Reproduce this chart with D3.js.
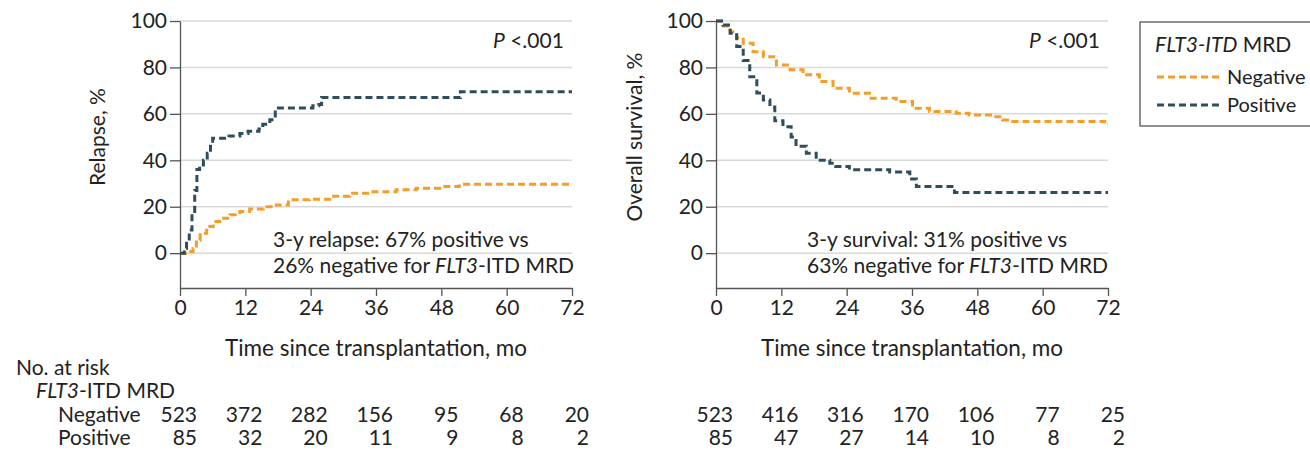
<!DOCTYPE html>
<html>
<head>
<meta charset="utf-8">
<script src="https://cdn.jsdelivr.net/npm/d3@7"></script>
<style>
  body { margin: 0; background: #fff; }
  svg { font-family: Lato, "Open Sans", sans-serif; }
  .axis path, .axis line { stroke: #555; stroke-width: 1.3; }
  .axis text { font-size: 21px; fill: #222; font-family: Lato, sans-serif; }
  .grid { stroke: #d9d9d9; stroke-width: 1.5; }
  .lbl { font-size: 21px; fill: #222; }
  .ttl { font-size: 22.5px; fill: #222; }
  .leg { font-size: 20px; fill: #222; }
</style>
</head>
<body>
<div class="chart"></div>
<script>
// tick values
var monthTicks = [0, 12, 24, 36, 48, 60, 72];
var pctTicks = [0, 20, 40, 60, 80, 100];

// cumulative incidence of relapse [month, %]
var relapseNeg = [[0,0],[1.5,0.7],[2.4,2],[3,5.7],[3.7,8.6],[4.9,11.5],[6.1,13.6],[7.3,15],[9.2,16.5],[11,18],
  [12.8,19],[15.3,20],[17.7,20.8],[19.9,23],[23.8,23.2],[27.5,24.5],[31.2,25.8],[34.8,26.5],[39.7,27.3],
  [43.4,28],[47.7,28.7],[51.3,29.7],[72,29.7]];
var relapsePos = [[0,0],[0.8,2],[1.2,5],[1.7,10],[2.2,18],[2.7,27],[3.1,36],[3.6,38],[4.3,40],[5,43],[5.6,47],
  [6,49.5],[9,50.5],[11,51.5],[12.5,52.5],[14.5,53.5],[15.2,55.5],[16.5,57.5],[17.5,62.5],[24.4,63.5],
  [25.5,64],[26,67],[51.5,69.5],[72,69.5]];

// overall survival [month, %]
var osNeg = [[0,100],[1.3,97.8],[2.6,95.4],[3.8,92.8],[5,90.4],[6.8,86.8],[8.7,84.6],[11.1,81],[13.6,79],
  [16,76.8],[19,73.9],[21.5,71],[24.5,68.9],[28.2,66.7],[33.1,65.3],[36.1,62.4],[39.2,61],[44.1,60.3],
  [46.5,59.5],[50.8,58.8],[52.6,57.4],[54.5,56.7],[71.4,55.5],[72,55.5]];
var osPos = [[0,100],[1.3,98.3],[2.6,94.7],[3.8,89],[5,83],[6.2,76],[7.5,69],[8.7,66],[9.9,63],[10.8,57],
  [12.3,54.5],[13.8,50],[14.7,46],[16.6,43],[18.4,40],[20.9,38.7],[22,37.3],[24.5,35.9],[31.9,35],
  [35.6,32],[36.8,28.7],[43.8,26.1],[72,26.1]];

// numbers at risk
var riskNegRelapse = [523, 372, 282, 156, 95, 68, 20];
var riskPosRelapse = [85, 32, 20, 11, 9, 8, 2];
var riskNegOS = [523, 416, 316, 170, 106, 77, 25];
var riskPosOS = [85, 47, 27, 14, 10, 8, 2];

var colNeg = "#f49d28", colPos = "#2e4e5d";

var svg = d3.select(".chart").append("svg")
    .attr("width", 1310)
    .attr("height", 450);

function panel(x0, opts) {
    var x = d3.scaleLinear().domain([0, 72]).range([x0, x0 + 392]);
    var y = d3.scaleLinear().domain([-15, 100]).range([288, 21]);
    var g = svg.append("g");

    // gridlines
    g.selectAll(".grid").data(pctTicks).enter().append("line")
        .attr("class", "grid")
        .attr("x1", x(0)).attr("x2", x(72))
        .attr("y1", function(d) { return y(d); })
        .attr("y2", function(d) { return y(d); });

    g.append("g").attr("class", "axis")
        .attr("transform", "translate(" + x(0) + ",0)")
        .call(d3.axisLeft(y).tickValues(pctTicks).tickSize(10).tickSizeOuter(0).tickPadding(3));

    g.append("g").attr("class", "axis")
        .attr("transform", "translate(0," + y(-15) + ")")
        .call(d3.axisBottom(x).tickValues(monthTicks).tickSize(8).tickSizeOuter(0).tickPadding(4));

    // y label
    g.append("text").attr("class", "lbl")
        .attr("transform", "translate(" + (x0 - opts.ylabDx) + "," + y(50) + ") rotate(-90)")
        .attr("text-anchor", "middle")
        .text(opts.ylab);

    // x label
    g.append("text").attr("class", "ttl")
        .attr("x", x(36)).attr("y", 356)
        .attr("text-anchor", "middle")
        .text("Time since transplantation, mo");

    // P value
    var p = g.append("text").attr("class", "lbl")
        .attr("x", x(70.5)).attr("y", 48).attr("text-anchor", "end");
    p.append("tspan").attr("font-style", "italic").text("P");
    p.append("tspan").text(" <.001");

    // annotation
    g.append("text").attr("class", "lbl").attr("x", x0 + opts.annDx).attr("y", 247).text(opts.ann);
    var a2 = g.append("text").attr("class", "lbl").attr("x", x0 + opts.annDx).attr("y", 273);
    a2.append("tspan").text(opts.ann2);
    a2.append("tspan").attr("font-style", "italic").text("FLT3");
    a2.append("tspan").text("-ITD MRD");

    var line = d3.line()
        .curve(d3.curveStepAfter)
        .x(function(d) { return x(d[0]); })
        .y(function(d) { return y(d[1]); });

    [[opts.neg, colNeg], [opts.pos, colPos]].forEach(function(s) {
        g.append("path")
            .datum(s[0])
            .attr("fill", "none")
            .attr("stroke", s[1])
            .attr("stroke-width", 3)
            .attr("stroke-dasharray", "7,4")
            .attr("d", line);
    });

    // numbers at risk
    [[opts.riskNeg, 422], [opts.riskPos, 445]].forEach(function(r) {
        g.selectAll(null).data(r[0]).enter().append("text")
            .attr("class", "lbl")
            .attr("text-anchor", "end")
            .attr("x", function(d, i) { return x(monthTicks[i]) + 17; })
            .attr("y", r[1])
            .text(function(d) { return d; });
    });
}

panel(180, {ylab: "Relapse, %", ylabDx: 75, annDx: 93, ann: "3-y relapse: 67% positive vs",
    ann2: "26% negative for ", neg: relapseNeg, pos: relapsePos,
    riskNeg: riskNegRelapse, riskPos: riskPosRelapse});
panel(716, {ylab: "Overall survival, %", ylabDx: 74, annDx: 91, ann: "3-y survival: 31% positive vs",
    ann2: "63% negative for ", neg: osNeg, pos: osPos,
    riskNeg: riskNegOS, riskPos: riskPosOS});

// risk table row labels
svg.append("text").attr("class", "lbl").attr("x", 16).attr("y", 375).text("No. at risk");
var ft = svg.append("text").attr("class", "lbl").attr("x", 36).attr("y", 398);
ft.append("tspan").attr("font-style", "italic").text("FLT3");
ft.append("tspan").text("-ITD MRD");
svg.append("text").attr("class", "lbl").attr("x", 58).attr("y", 422).text("Negative");
svg.append("text").attr("class", "lbl").attr("x", 58).attr("y", 445).text("Positive");

// legend
var leg = svg.append("g");
leg.append("rect").attr("x", 1140).attr("y", 22).attr("width", 190).attr("height", 104)
    .attr("fill", "#fff").attr("stroke", "#555").attr("stroke-width", 1.3);
var lt = leg.append("text").attr("class", "lbl").attr("x", 1155).attr("y", 52);
lt.append("tspan").attr("font-style", "italic").text("FLT3-ITD");
lt.append("tspan").text(" MRD");
[["Negative", colNeg, 77], ["Positive", colPos, 105]].forEach(function(d) {
    leg.append("line").attr("x1", 1157).attr("x2", 1220).attr("y1", d[2]).attr("y2", d[2])
        .attr("stroke", d[1]).attr("stroke-width", 3).attr("stroke-dasharray", "7,4");
    leg.append("text").attr("class", "leg").attr("x", 1227).attr("y", d[2] + 7).text(d[0]);
});
</script>
</body>
</html>
